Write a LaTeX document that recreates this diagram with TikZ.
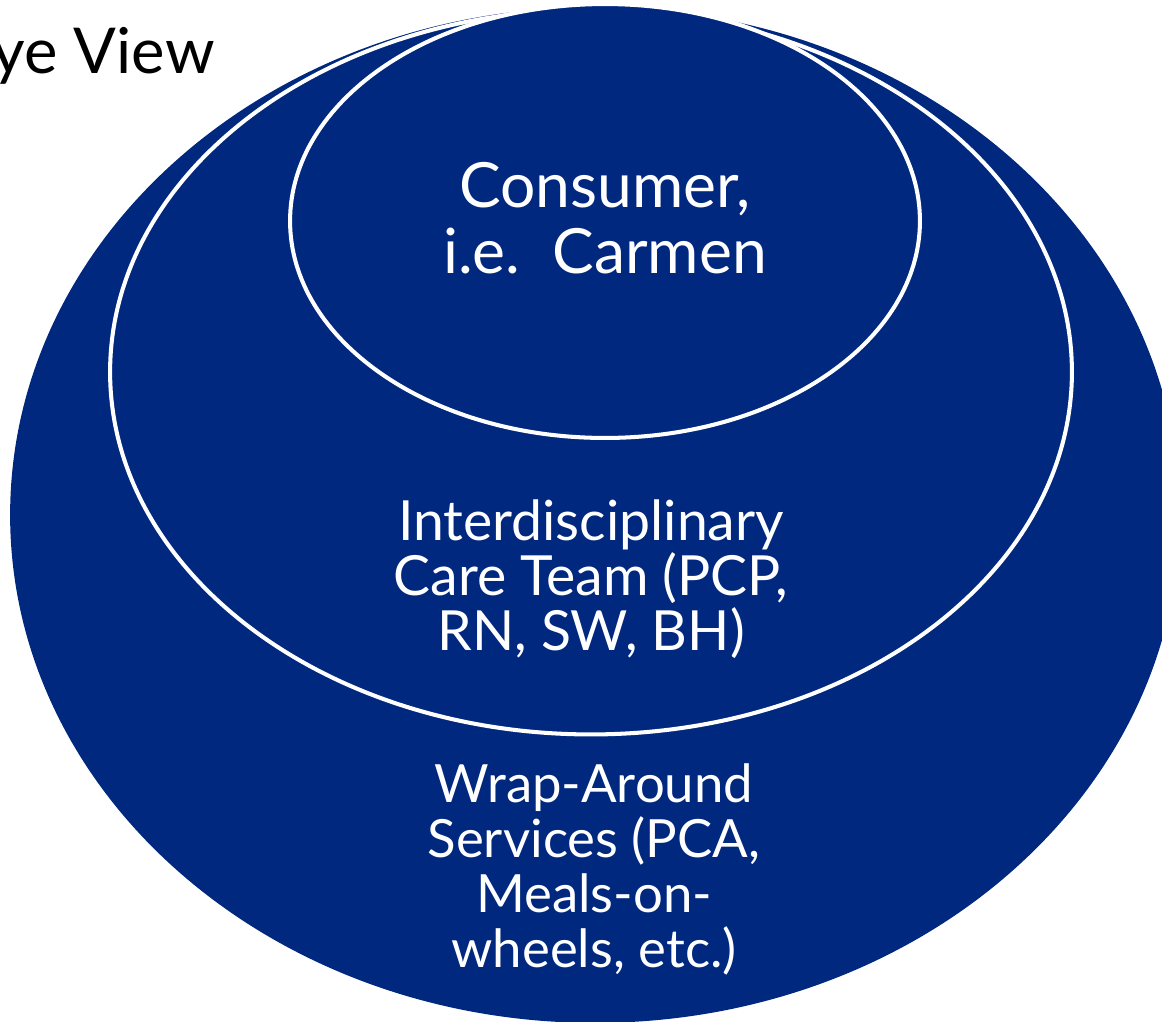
\documentclass[tikz,border=0pt]{standalone}
\usepackage{fontspec}
\setmainfont{Lato}
\usetikzlibrary{shapes.geometric}
\definecolor{careblue}{HTML}{01287F}
\tikzset{tier/.style={ellipse,fill=careblue,inner sep=0pt},tierrim/.style={draw=white,line width=2.3pt},tiertext/.style={text=white,align=center,inner sep=0pt,anchor=base}}

\begin{document}
\begin{tikzpicture}[x=0.02cm,y=-0.02cm]
\useasboundingbox (0,0) rectangle (1162,1021);
\clip (0,0) rectangle (1162,1021);
% three nested tiers, outermost first
\node[tier,minimum width=23.4cm,minimum height=20.32cm] (services) at (595,515) {};
\node[tier,tierrim,minimum width=19.24cm,minimum height=14.5cm] (team) at (591,372) {};
\node[tier,tierrim,minimum width=12.6cm,minimum height=8.68cm] (consumer) at (605,221) {};
% labels sit on the baseline of their last line
\node[tiertext,font=\fontsize{35.5}{37.5}\selectfont] (consumertext) at (605,273) {Consumer,\\i.e.\ \ Carmen};
\node[tiertext,font=\fontsize{31.5}{31.3}\selectfont] (teamtext) at (591,650) {Interdisciplinary\\Care Team (PCP,\\RN, SW, BH)};
\node[tiertext,font=\fontsize{30}{31.3}\selectfont] (servicestext) at (594,967) {Wrap-Around\\Services (PCA,\\Meals-on-\\wheels, etc.)};
\node[anchor=base east,inner sep=0pt,font=\fontsize{36}{40}\selectfont] (title) at (215,73) {ye View};
\end{tikzpicture}
\end{document}
